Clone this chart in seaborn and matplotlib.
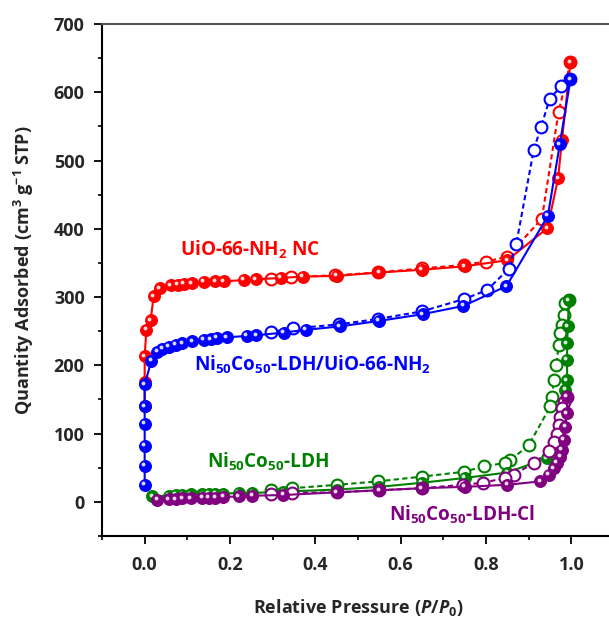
import numpy as np
import pandas as pd
import matplotlib
matplotlib.use("Agg")
import matplotlib.pyplot as plt
import matplotlib.transforms as mtransforms
from matplotlib.ticker import MultipleLocator
import seaborn as sns

sns.set_style("white")
plt.rcParams['font.family'] = ['Open Sans', 'DejaVu Sans']
plt.rcParams['font.weight'] = 'bold'
plt.rcParams['mathtext.fontset'] = 'custom'
plt.rcParams['mathtext.rm'] = 'Open Sans:bold'
plt.rcParams['mathtext.bf'] = 'Open Sans:bold'
plt.rcParams['mathtext.it'] = 'Open Sans:italic:bold'

# ---------------- data ----------------
red_ads_x = [0.0, 0.0, 0.0, 0.004, 0.014, 0.021, 0.035, 0.061, 0.077, 0.092, 0.11, 0.139, 0.166, 0.185,
             0.233, 0.26, 0.319, 0.37, 0.45, 0.55, 0.65, 0.75, 0.85, 0.944, 0.969, 0.978, 0.998]
red_ads_y = [140, 175, 213, 252, 266, 301, 313, 317, 318, 319, 320, 322, 323, 323,
             325, 326, 328, 330, 331, 336, 340, 345, 354, 401, 474, 530, 644]
red_des_x = [0.998, 0.97, 0.931, 0.85, 0.80, 0.748, 0.65, 0.548, 0.447, 0.342, 0.295]
red_des_y = [644, 571, 415, 359, 352, 347, 342, 336, 332, 329, 326]

blue_ads_x = [0.0, 0.0, 0.0, 0.0, 0.0, 0.0, 0.016, 0.03, 0.041, 0.056, 0.073, 0.088, 0.112, 0.139, 0.155,
              0.169, 0.192, 0.239, 0.262, 0.326, 0.377, 0.457, 0.549, 0.652, 0.747, 0.848, 0.945, 0.973, 0.998]
blue_ads_y = [25, 53, 82, 114, 140, 172, 207, 220, 224, 227, 230, 232, 235, 237, 238,
              240, 241, 243, 244, 248, 252, 257, 265, 275, 287, 316, 419, 524, 619]
blue_des_x = [0.998, 0.976, 0.949, 0.929, 0.912, 0.871, 0.853, 0.802, 0.748, 0.65, 0.547, 0.455, 0.348, 0.297]
blue_des_y = [619, 609, 590, 549, 516, 378, 341, 310, 297, 279, 268, 260, 254, 249]

green_ads_x = [0.018, 0.057, 0.073, 0.088, 0.108, 0.135, 0.151, 0.166, 0.184, 0.221, 0.252, 0.325, 0.45,
               0.55, 0.65, 0.75, 0.85, 0.943, 0.965, 0.975, 0.982, 0.986, 0.99, 0.99, 0.99, 0.992, 0.994]
green_ads_y = [8, 9, 10, 10, 11, 11, 12, 12, 12, 13, 13, 15, 18,
               22, 28, 35, 43, 64, 90, 110, 135, 164, 178, 208, 232, 257, 295]
green_des_x = [0.994, 0.986, 0.982, 0.978, 0.974, 0.97, 0.965, 0.959, 0.955, 0.951, 0.90, 0.857, 0.845,
               0.795, 0.748, 0.65, 0.547, 0.451, 0.346, 0.297]
green_des_y = [295, 291, 274, 259, 247, 230, 200, 179, 154, 140, 83, 61, 57,
               52, 44, 37, 30, 25, 20, 17]

purple_ads_x = [0.03, 0.057, 0.073, 0.088, 0.108, 0.135, 0.151, 0.166, 0.184, 0.221, 0.252, 0.325, 0.45,
                0.55, 0.65, 0.75, 0.85, 0.927, 0.947, 0.959, 0.966, 0.974, 0.978, 0.982, 0.986, 0.99, 0.99]
purple_ads_y = [3, 4, 4, 5, 5, 6, 6, 6, 7, 8, 9, 10, 14,
                17, 20, 22, 25, 30, 40, 49, 57, 66, 76, 91, 110, 130, 154]
purple_des_x = [0.99, 0.982, 0.978, 0.974, 0.97, 0.966, 0.959, 0.947, 0.913, 0.865, 0.845, 0.793, 0.747,
                0.65, 0.55, 0.45, 0.346, 0.297]
purple_des_y = [154, 147, 137, 125, 113, 100, 88, 74, 57, 40, 35, 28, 25,
                20, 17, 14, 13, 12]

series = [
    ("UiO-66-NH$_{2}$ NC", "#ff0000", red_ads_x, red_ads_y, red_des_x, red_des_y),
    ("Ni$_{50}$Co$_{50}$-LDH/UiO-66-NH$_{2}$", "#0000ff", blue_ads_x, blue_ads_y, blue_des_x, blue_des_y),
    ("Ni$_{50}$Co$_{50}$-LDH", "#008000", green_ads_x, green_ads_y, green_des_x, green_des_y),
    ("Ni$_{50}$Co$_{50}$-LDH-Cl", "#800080", purple_ads_x, purple_ads_y, purple_des_x, purple_des_y),
]
label_pos = [(0.248, 369), (0.394, 200), (0.29, 58), (0.745, -19)]

# ---------------- figure ----------------
fig = plt.figure(figsize=(6.09, 6.23), dpi=100)
ax = fig.add_axes([102 / 609, 87 / 623, 512 / 609, 512 / 623])

hl = mtransforms.offset_copy(ax.transData, fig=fig, x=-1.6, y=1.6, units='dots')

for (name, col, ax_x, ax_y, dx, dy) in series:
    ads = pd.DataFrame({"p": ax_x, "q": ax_y})
    des = pd.DataFrame({"p": dx, "q": dy})
    sns.lineplot(data=des, x="p", y="q", sort=False, estimator=None, ax=ax, color=col,
                 linestyle=(0, (2.5, 1.6)), linewidth=1.5, marker='o', markersize=8.5,
                 markerfacecolor='white', markeredgecolor=col, markeredgewidth=1.5)
    sns.lineplot(data=ads, x="p", y="q", sort=False, estimator=None, ax=ax, color=col,
                 linestyle='-', linewidth=1.5, marker='o', markersize=8.5,
                 markerfacecolor=col, markeredgecolor=col, markeredgewidth=0.8)
    ax.plot(ads["p"], ads["q"], linestyle='none', marker='o', markersize=2.8,
            markerfacecolor='white', markeredgewidth=0, alpha=0.85, transform=hl)

for (name, col, *_), (lx, ly) in zip(series, label_pos):
    ax.text(lx, ly, name, color=col, fontsize=13.6, fontweight='bold', ha='center', va='center')

ax.set_xlim(-0.1, 1.1)
ax.set_ylim(-50, 700)
ax.xaxis.set_minor_locator(MultipleLocator(0.1))
ax.yaxis.set_minor_locator(MultipleLocator(50))
ax.set_xticks([0.0, 0.2, 0.4, 0.6, 0.8, 1.0])
ax.set_xticklabels(["0.0", "0.2", "0.4", "0.6", "0.8", "1.0"])
ax.set_yticks([0, 100, 200, 300, 400, 500, 600, 700])
ax.set_yticklabels(["0", "100", "200", "300", "400", "500", "600", "700"])

ax.tick_params(axis='both', which='major', direction='out', length=5.5, width=1.3,
               labelsize=13, color='black', bottom=True, left=True, top=False, right=False)
ax.tick_params(axis='x', which='major', pad=9)
ax.tick_params(axis='y', which='major', pad=7)
ax.tick_params(axis='both', which='minor', direction='out', length=3, width=1.2,
               color='black', bottom=True, left=True, top=False, right=False)
for lab in ax.get_xticklabels() + ax.get_yticklabels():
    lab.set_fontweight('bold')

for s in ['left', 'bottom']:
    ax.spines[s].set_color('black')
    ax.spines[s].set_linewidth(1.5)
ax.spines['top'].set_color('#555555')
ax.spines['top'].set_linewidth(1.5)
ax.spines['right'].set_visible(False)

ax.set_xlabel("Relative Pressure ($P$/$P_{0}$)", fontsize=13, fontweight='bold')
ax.set_ylabel("Quantity Adsorbed (cm$^{3}$ g$^{-1}$ STP)", fontsize=13, fontweight='bold')
ax.xaxis.set_label_coords(0.5, -0.12)
ax.yaxis.set_label_coords(-0.128, 0.52)

fig.savefig("out.png", dpi=100)
